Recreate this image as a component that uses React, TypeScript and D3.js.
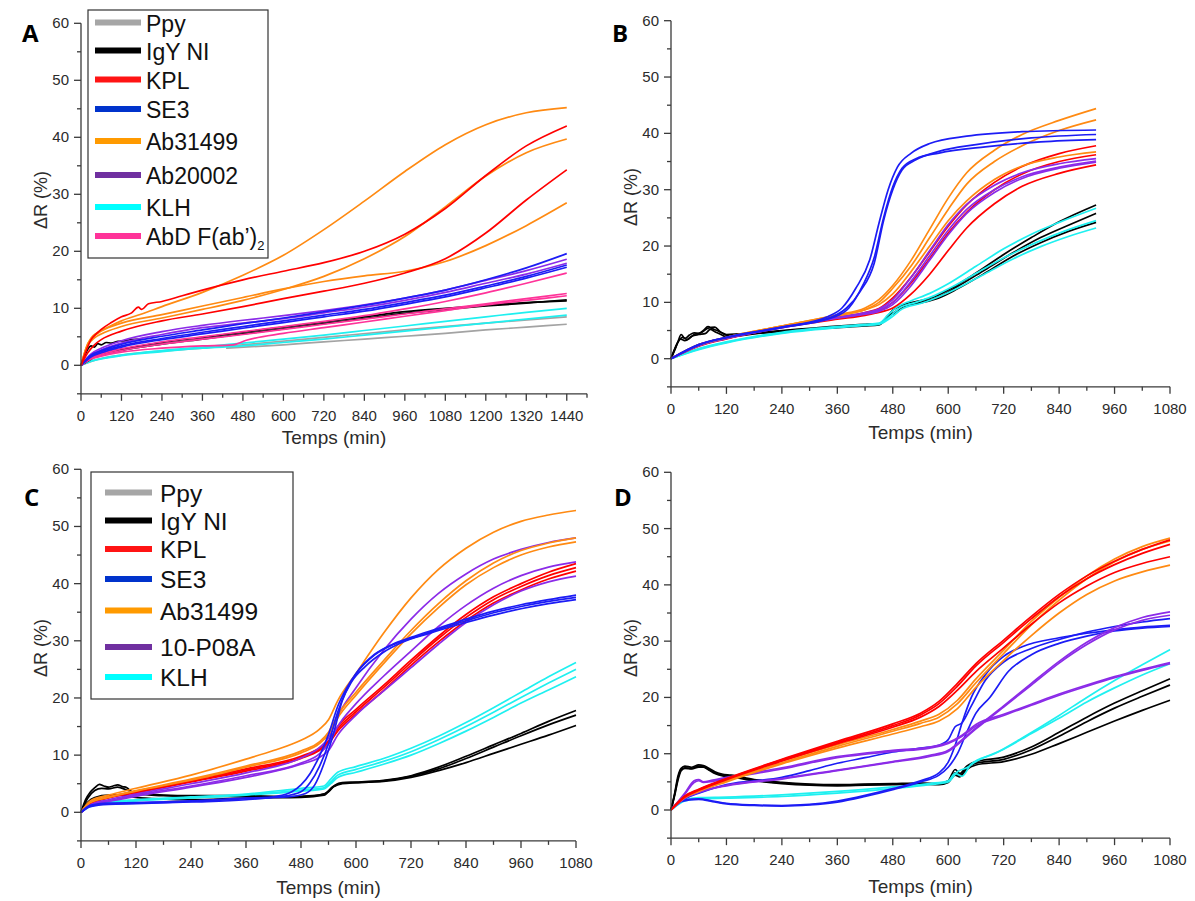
import React from 'react';
import * as d3 from 'd3';

type Pt = [number, number];
type Curve = Pt[];

// ---------------- Panel A (0..1440 min) ----------------
const A_PPY: Curve[] = [
  [[430,3.0],[600,3.6],[720,4.1],[840,4.6],[960,5.1],[1080,5.6],[1200,6.2],[1320,6.7],[1440,7.2]],
  [[0,0],[60,1.2],[120,1.8],[240,2.5],[360,3.0],[480,3.6],[720,4.9],[960,6.2],[1200,7.4],[1440,8.5]],
];
const A_IGY: Curve[] = [
  [[0,0],[30,1.2],[60,1.8],[120,2.6],[240,3.7],[360,4.6],[480,5.5],[600,6.4],[720,7.3],[840,8.2],[960,9.1],[1080,9.8],[1200,10.4],[1320,10.9],[1440,11.5]],
  [[0,0],[60,2],[120,2.8],[240,4],[360,4.9],[480,5.8],[600,6.7],[720,7.6],[840,8.5],[960,9.4],[1080,10],[1200,10.5],[1320,11],[1440,11.3]],
  [[0,0],[10,1.5],[20,2.8],[30,3.4],[40,3.2],[50,3.8],[60,3.6],[75,4.0],[90,3.9],[110,4.2],[130,4.3],[150,4.5],[180,4.6]],
];
const A_KPL: Curve[] = [
  [[0,0],[15,2.5],[30,4.5],[45,5.5],[60,6.3],[90,7.5],[120,8.5],[150,9.2],[170,10.2],[180,9.8],[200,10.8],[240,11.2],[300,12.2],[360,13.2],[480,15],[600,16.5],[720,18],[840,20],[960,23],[1080,27.5],[1200,33.3],[1320,38.5],[1440,42]],
  [[0,0],[20,2.2],[40,3.6],[60,4.5],[120,6],[240,7.8],[360,9],[480,10.3],[600,11.7],[720,13],[840,14.4],[960,16.2],[1080,18.7],[1200,23.2],[1320,29],[1440,34.3]],
];
const A_SE3: Curve[] = [
  [[0,0],[30,1.8],[60,2.6],[120,3.7],[240,5.1],[360,6.2],[480,7.3],[600,8.3],[720,9.4],[840,10.5],[960,11.8],[1080,13.2],[1200,15],[1320,17.1],[1440,19.6]],
  [[0,0],[30,1.6],[60,2.4],[120,3.4],[240,4.7],[360,5.8],[480,6.8],[600,7.8],[720,8.8],[840,9.8],[960,11],[1080,12.3],[1200,13.9],[1320,15.6],[1440,17.6]],
  [[0,0],[30,1.5],[60,2.2],[120,3.2],[240,4.5],[360,5.5],[480,6.5],[600,7.5],[720,8.5],[840,9.5],[960,10.7],[1080,12],[1200,13.6],[1320,15.3],[1440,17.2]],
];
const A_AB31499: Curve[] = [
  [[0,0],[15,3],[30,4.8],[45,5.6],[60,6.1],[90,7.0],[120,7.8],[180,9],[240,10.3],[360,12.8],[480,15.8],[600,19.3],[720,23.8],[840,28.8],[960,34],[1080,38.7],[1200,42.2],[1320,44.3],[1440,45.2]],
  [[0,0],[20,3.5],[40,4.8],[60,5.5],[120,6.8],[240,8.3],[360,9.8],[480,11.4],[600,13.3],[720,15.6],[840,18.7],[960,22.6],[1080,27.8],[1200,33.2],[1320,37.3],[1440,39.7]],
  [[0,0],[20,3.8],[40,5.2],[60,6.0],[120,7.4],[240,8.9],[360,10.4],[480,11.9],[600,13.4],[720,14.7],[840,15.7],[960,16.5],[1080,18.2],[1200,21],[1320,24.5],[1440,28.5]],
];
const A_AB20002: Curve[] = [
  [[0,0],[30,2],[60,3],[120,4.3],[240,5.9],[360,7],[480,7.9],[600,8.7],[720,9.6],[840,10.6],[960,11.8],[1080,13.2],[1200,14.9],[1320,16.6],[1440,18.6]],
  [[0,0],[30,1.8],[60,2.7],[120,3.9],[240,5.4],[360,6.6],[480,7.4],[600,8.2],[720,9.2],[840,10.2],[960,11.4],[1080,12.8],[1200,14.4],[1320,16],[1440,17.9]],
];
const A_KLH: Curve[] = [
  [[0,0],[30,0.8],[60,1.2],[120,1.8],[240,2.6],[360,3.2],[480,3.9],[600,4.6],[720,5.3],[840,6.1],[960,6.9],[1080,7.7],[1200,8.5],[1320,9.3],[1440,10]],
  [[0,0],[30,0.7],[60,1.1],[120,1.7],[240,2.4],[360,3.0],[480,3.4],[600,4.0],[720,4.6],[840,5.3],[960,6.0],[1080,6.7],[1200,7.4],[1320,8.1],[1440,8.8]],
];
const A_ABD: Curve[] = [
  [[0,0],[30,1.3],[60,2],[120,2.9],[240,4.1],[360,5],[480,5.9],[600,6.8],[720,7.7],[840,8.7],[960,9.9],[1080,11.2],[1200,12.7],[1320,14.4],[1440,16.2]],
  [[0,0],[30,1.2],[60,1.8],[120,2.6],[240,3.7],[360,4.6],[480,5.4],[600,6.3],[720,7.2],[840,8.1],[960,9],[1080,9.9],[1200,10.8],[1320,11.7],[1440,12.6]],
  [[0,0],[30,1.1],[60,1.6],[120,2.3],[240,3.0],[360,3.4],[450,3.6],[490,4.4],[600,5.6],[720,6.6],[840,7.6],[960,8.6],[1080,9.6],[1200,10.6],[1320,11.4],[1440,12.2]],
];

// ---------------- Panel B (0..920 min) ----------------
const B_IGY: Curve[] = [
  [[0,0],[8,1.5],[15,3],[22,4.3],[30,3.6],[40,4.2],[50,4.6],[60,4.5],[70,5.0],[80,5.7],[90,5.3],[100,5.0],[110,4.6],[120,4.3],[180,4.6],[240,5.0],[300,5.4],[360,5.8],[420,6.1],[450,6.2],[465,7.2],[480,8.6],[495,9.3],[510,9.8],[540,10.3],[570,11],[600,12.2],[660,15.2],[720,18.5],[780,21.5],[840,24.3],[920,27.3]],
  [[0,0],[10,2],[20,3.5],[30,3.2],[45,4],[60,4.3],[75,4.5],[85,5.2],[95,4.8],[110,4.2],[120,3.9],[180,4.4],[240,4.9],[300,5.3],[360,5.6],[420,6.0],[450,6.1],[470,7.5],[485,8.2],[500,9.2],[540,10],[580,11],[620,12.8],[680,15.8],[740,18.8],[800,21.5],[860,23.7],[920,25.8]],
  [[0,0],[12,2.5],[25,3.8],[35,3.4],[50,4.3],[65,4.6],[80,5.4],[95,5.6],[105,4.9],[120,4.2],[180,4.5],[240,4.8],[300,5.2],[360,5.5],[420,5.8],[450,6.0],[475,7.8],[490,8.6],[505,9.3],[540,9.9],[580,10.8],[620,12.4],[680,15.2],[740,18.2],[800,20.6],[860,22.6],[920,24.2]],
];
const B_KLH: Curve[] = [
  [[0,0],[60,1.8],[120,3.0],[240,4.7],[360,5.7],[420,6.1],[450,6.3],[470,7.8],[490,9.2],[520,10.3],[560,11.6],[600,13.3],[660,16.4],[720,19.5],[780,22.1],[840,24.2],[920,26.7]],
  [[0,0],[60,1.7],[120,2.9],[240,4.6],[360,5.6],[420,6.0],[450,6.2],[475,7.6],[495,9],[530,10],[570,11.2],[610,12.8],[670,15.6],[730,18.3],[790,20.6],[850,22.6],[920,24.5]],
  [[0,0],[60,1.6],[120,2.8],[240,4.5],[360,5.5],[420,5.9],[450,6.1],[478,7.4],[500,8.8],[540,9.8],[580,11],[620,12.5],[680,15.1],[740,17.7],[800,19.9],[860,21.7],[920,23.2]],
];
const B_KPL: Curve[] = [
  [[0,0],[60,2.3],[120,3.6],[240,5.6],[360,7.3],[420,8.2],[450,8.9],[480,10.8],[520,14.5],[560,19],[600,23.5],[640,27.3],[700,31.3],[760,34.1],[840,36.4],[920,37.8]],
  [[0,0],[60,2.3],[120,3.6],[240,5.6],[360,7.2],[420,8],[450,8.5],[480,10],[520,13.5],[560,17.8],[600,22.3],[640,26],[700,30],[760,32.8],[840,35],[920,36.2]],
  [[0,0],[60,2.2],[120,3.5],[240,5.5],[360,7.0],[420,7.7],[450,8.2],[480,9.0],[520,11.5],[560,15],[600,19.2],[640,23.2],[700,27.5],[760,30.6],[840,32.9],[920,34.4]],
];
const B_AB20002: Curve[] = [
  [[0,0],[60,2.4],[120,3.7],[240,5.7],[360,7.4],[420,8.2],[450,8.8],[480,10.5],[520,14.5],[560,19.2],[600,23.8],[640,27.4],[700,30.8],[760,33],[840,34.6],[920,35.5]],
  [[0,0],[60,2.3],[120,3.6],[240,5.6],[360,7.3],[420,8.0],[450,8.6],[480,10],[520,13.8],[560,18.3],[600,22.8],[640,26.5],[700,30],[760,32.3],[840,34],[920,35.1]],
  [[0,0],[60,2.3],[120,3.6],[240,5.5],[360,7.2],[420,7.9],[450,8.4],[480,9.6],[520,13],[560,17.5],[600,22],[640,25.8],[700,29.5],[760,32],[840,33.8],[920,34.9]],
];
const B_AB31499: Curve[] = [
  [[0,0],[60,2.5],[120,3.8],[240,5.8],[360,7.8],[420,9],[450,10.5],[480,13],[520,17.5],[560,23],[600,28.5],[640,33],[700,37],[760,39.8],[840,42.3],[920,44.4]],
  [[0,0],[60,2.5],[120,3.8],[240,5.8],[360,7.7],[420,8.7],[450,10],[480,12.5],[520,16.5],[560,21.5],[600,26.5],[640,31],[700,35],[760,37.8],[840,40.5],[920,42.4]],
  [[0,0],[60,2.4],[120,3.7],[240,5.8],[360,7.6],[420,8.7],[450,9.6],[480,11.5],[520,15.5],[560,20],[600,24.5],[640,28],[700,31.8],[760,34.2],[840,35.8],[920,36.7]],
];
const B_SE3: Curve[] = [
  [[0,0],[60,2.5],[120,3.8],[240,5.6],[340,7.5],[370,9],[400,12.5],[430,17.5],[450,24],[470,30],[490,34],[520,36.5],[560,38.2],[640,39.5],[760,40.3],[920,40.6]],
  [[0,0],[60,2.5],[120,3.8],[240,5.6],[350,7.5],[380,9],[410,12],[440,17],[460,24.5],[480,30],[500,33.5],[530,35.3],[580,36.8],[660,38],[780,39.2],[920,39.8]],
  [[0,0],[60,2.4],[120,3.7],[240,5.5],[350,7.3],[385,9],[415,13],[440,18],[460,25],[480,30.5],[500,33.8],[530,35.5],[580,36.5],[680,37.6],[800,38.5],[920,38.9]],
];

// ---------------- Panel C (0..1080 min) ----------------
const C_IGY: Curve[] = [
  [[0,0],[10,2.2],[20,3.5],[30,4.3],[40,4.9],[50,4.6],[60,4.4],[70,4.6],[80,4.8],[90,4.5],[100,4.3],[110,3.6],[120,3.2],[180,2.9],[240,2.8],[360,2.8],[420,2.7],[480,2.8],[520,3.0],[540,3.6],[555,4.8],[570,5.2],[600,5.3],[660,5.6],[720,6.4],[780,7.9],[840,9.8],[900,11.8],[960,13.8],[1020,15.9],[1080,17.8]],
  [[0,0],[15,2.5],[30,3.8],[45,4.2],[60,4.1],[80,4.4],[100,3.9],[120,3.4],[180,3.0],[240,2.9],[360,2.9],[480,2.7],[530,3.2],[550,4.5],[570,5.1],[600,5.2],[660,5.5],[720,6.3],[780,7.6],[840,9.4],[900,11.4],[960,13.4],[1020,15.3],[1080,17]],
  [[0,0],[15,1.8],[30,2.6],[60,3.0],[90,3.0],[120,2.6],[180,2.3],[240,2.2],[360,2.5],[480,2.6],[530,3.0],[550,4.4],[570,5.0],[600,5.2],[660,5.4],[720,6.1],[780,7.3],[840,8.7],[900,10.3],[960,11.9],[1020,13.5],[1080,15.2]],
];
const C_KLH: Curve[] = [
  [[0,0],[20,1.2],[60,1.8],[120,2.2],[240,2.7],[360,3.2],[480,4.2],[530,4.6],[545,5.8],[560,7],[600,8],[660,9.4],[720,11.2],[780,13.3],[840,15.7],[900,18.3],[960,21],[1020,23.7],[1080,26.2]],
  [[0,0],[20,1.1],[60,1.7],[120,2.1],[240,2.6],[360,3.1],[480,3.9],[530,4.3],[545,5.3],[560,6.5],[600,7.5],[660,8.9],[720,10.6],[780,12.7],[840,15],[900,17.5],[960,20.1],[1020,22.6],[1080,25]],
  [[0,0],[20,1.0],[60,1.6],[120,2.0],[240,2.5],[360,3.0],[480,3.7],[530,4.1],[545,5.0],[560,6.1],[600,7.0],[660,8.4],[720,10.0],[780,12.0],[840,14.2],[900,16.6],[960,19.1],[1020,21.4],[1080,23.7]],
];
const C_KPL: Curve[] = [
  [[0,0],[30,2],[60,2.7],[120,3.6],[240,5.6],[360,7.6],[480,9.8],[520,11.2],[540,12.5],[560,15],[600,18],[660,22.2],[720,26.6],[780,30.8],[840,34.6],[900,37.7],[960,40],[1020,42],[1080,43.5]],
  [[0,0],[30,1.9],[60,2.6],[120,3.5],[240,5.4],[360,7.4],[480,9.6],[520,11],[540,12.3],[560,14.6],[600,17.6],[660,21.8],[720,26.2],[780,30.4],[840,34.1],[900,37.2],[960,39.5],[1020,41.4],[1080,42.8]],
  [[0,0],[30,1.8],[60,2.5],[120,3.4],[240,5.3],[360,7.2],[480,9.4],[520,10.8],[540,12],[560,14.2],[600,17.2],[660,21.3],[720,25.7],[780,29.8],[840,33.5],[900,36.6],[960,38.9],[1020,40.8],[1080,42.2]],
];
const C_P08A: Curve[] = [
  [[0,0],[20,1.3],[60,2.2],[120,3.2],[240,5],[360,6.9],[480,9.5],[520,11.3],[540,13],[560,16.8],[600,21.8],[660,28.3],[720,33.8],[780,38.3],[840,41.7],[900,44.3],[960,46],[1020,47.2],[1080,48]],
  [[0,0],[20,1.2],[60,2],[120,3],[240,4.6],[360,6.4],[480,8.6],[520,10.2],[540,12],[560,15],[600,19],[660,23.8],[720,28.2],[780,32.5],[840,36.2],[900,39.2],[960,41.4],[1020,42.9],[1080,43.8]],
  [[0,0],[20,1.1],[60,1.9],[120,2.8],[240,4.4],[360,6.1],[480,8.4],[520,9.6],[540,10.8],[560,13.5],[600,17],[660,21.2],[720,25.3],[780,29.4],[840,33.2],[900,36.3],[960,38.7],[1020,40.3],[1080,41.3]],
];
const C_AB31499: Curve[] = [
  [[0,0],[20,2],[60,3],[120,4.2],[240,6.5],[360,9.3],[420,10.8],[480,12.6],[520,14.5],[540,16.2],[560,19.5],[600,24.3],[660,31.3],[720,37.5],[780,42.5],[840,46.2],[900,49],[960,50.9],[1020,52],[1080,52.8]],
  [[0,0],[20,1.8],[60,2.7],[120,3.8],[240,5.8],[360,8.1],[480,10.7],[520,12.3],[540,14],[560,17],[600,21],[660,26.5],[720,31.8],[780,36.5],[840,40.5],[900,43.6],[960,45.8],[1020,47.1],[1080,48]],
  [[0,0],[20,1.7],[60,2.6],[120,3.7],[240,5.6],[360,7.9],[480,10.4],[520,12],[540,13.6],[560,16.5],[600,20.5],[660,26],[720,31.2],[780,35.8],[840,39.8],[900,42.8],[960,45],[1020,46.4],[1080,47.3]],
];
const C_SE3: Curve[] = [
  [[0,0],[20,1],[60,1.4],[120,1.5],[240,1.8],[360,2.2],[420,2.7],[460,3.6],[480,4.8],[500,6.8],[520,9.8],[540,13.6],[560,18.5],[580,21.8],[600,24.3],[640,27.6],[680,29.4],[720,30.6],[780,32.2],[840,33.8],[900,35.2],[960,36.3],[1020,37.2],[1080,38]],
  [[0,0],[20,1.1],[60,1.5],[120,1.6],[240,1.9],[360,2.4],[440,2.8],[480,3.6],[500,5.2],[520,8],[540,12],[560,17.5],[580,21.5],[600,24.2],[640,27.5],[680,29.3],[720,30.4],[780,32],[840,33.5],[900,34.9],[960,36],[1020,36.9],[1080,37.6]],
  [[0,0],[20,1.2],[60,1.6],[120,1.7],[240,2.0],[360,2.5],[450,2.7],[490,3.3],[510,4.8],[530,8.5],[550,13.5],[570,19.5],[590,22.8],[620,25.5],[660,28],[700,29.7],[760,31.3],[840,33.2],[900,34.5],[960,35.6],[1020,36.5],[1080,37.2]],
];

// ---------------- Panel D (0..1080 min) ----------------
const D_IGY: Curve[] = [
  [[0,0],[8,3],[15,6],[22,7.4],[30,7.8],[45,7.6],[60,8.0],[70,7.9],[80,7.5],[95,6.8],[110,6.4],[130,6.2],[180,5.4],[240,4.9],[300,4.6],[360,4.5],[420,4.6],[480,4.7],[540,4.8],[580,4.7],[600,5.2],[615,7.2],[625,6.5],[640,7.8],[660,8.6],[720,9.4],[780,11.2],[840,13.8],[900,16.5],[960,19],[1020,21.2],[1080,23.3]],
  [[0,0],[8,2.8],[15,5.6],[22,7.2],[30,7.5],[45,7.4],[60,7.8],[70,7.7],[80,7.3],[95,6.6],[110,6.2],[130,6.0],[180,5.3],[240,4.8],[300,4.5],[360,4.4],[420,4.5],[480,4.6],[540,4.7],[580,4.6],[600,5.0],[615,6.6],[625,6.2],[640,7.5],[660,8.3],[720,9.0],[780,10.7],[840,13.1],[900,15.7],[960,18.1],[1020,20.2],[1080,22.2]],
  [[0,0],[8,2.6],[15,5.3],[22,7.0],[30,7.4],[45,7.3],[60,7.6],[70,7.6],[80,7.2],[95,6.5],[110,6.1],[130,5.9],[180,5.2],[240,4.7],[300,4.4],[360,4.3],[420,4.4],[480,4.5],[540,4.6],[580,4.5],[600,4.9],[615,6.2],[625,5.9],[640,7.2],[660,8.0],[720,8.6],[780,9.9],[840,11.8],[900,13.8],[960,15.8],[1020,17.7],[1080,19.5]],
];
const D_KLH: Curve[] = [
  [[0,0],[30,1.8],[60,2.2],[120,2.3],[240,2.7],[360,3.3],[480,4.1],[560,4.7],[600,5.2],[615,6.5],[630,6.0],[650,8.2],[700,10],[760,12.8],[840,16.8],[900,20],[960,23],[1020,25.8],[1080,28.5]],
  [[0,0],[30,1.6],[60,2],[120,2.1],[240,2.4],[360,3],[480,3.8],[560,4.5],[600,5],[620,6.8],[640,7.5],[660,8.6],[720,10.8],[780,13.6],[840,16.3],[900,19.2],[960,21.7],[1020,24],[1080,26]],
];
const D_SE3: Curve[] = [
  [[0,0],[30,2],[60,3],[120,4.5],[240,5.8],[300,7],[360,8.3],[420,9.3],[480,10.3],[540,11],[580,11.5],[600,12.5],[615,14.8],[630,15.5],[650,18.5],[680,23],[720,26.3],[780,28.7],[840,30.3],[900,31.6],[960,32.6],[1020,33.4],[1080,34]],
  [[0,0],[20,1.6],[60,2.0],[90,1.6],[120,1.2],[180,0.9],[240,0.8],[300,1.0],[360,1.6],[420,2.6],[480,3.8],[540,5.2],[580,6.6],[600,8.5],[615,11.5],[630,15.5],[650,20],[680,24],[720,27.3],[760,29],[840,30.6],[900,31.4],[960,32],[1020,32.5],[1080,32.8]],
  [[0,0],[20,1.5],[60,1.9],[90,1.5],[120,1.1],[180,0.8],[240,0.7],[300,0.9],[360,1.4],[420,2.4],[480,3.6],[540,5.0],[580,6.2],[600,7.6],[620,10],[640,13.8],[660,17.2],[690,20],[730,24.6],[780,27.6],[840,29.6],[900,30.9],[960,31.8],[1020,32.3],[1080,32.6]],
];
const D_P08A: Curve[] = [
  [[0,0],[30,3],[50,5.2],[60,5.4],[70,5.0],[90,5.3],[120,5.8],[240,7.5],[360,9.5],[480,10.6],[560,11.2],[600,12],[630,13.3],[660,15.2],[720,17],[780,18.8],[840,20.6],[900,22.2],[960,23.7],[1020,25],[1080,26.2]],
  [[0,0],[30,2.2],[60,3.2],[120,4.4],[240,5.6],[360,7.1],[480,8.6],[560,9.7],[600,10.6],[630,12.5],[660,14.6],[720,18.5],[780,22.5],[840,26.4],[900,29.8],[960,32.4],[1020,34.2],[1080,35.2]],
  [[0,0],[30,2.1],[60,3.1],[120,4.3],[240,5.5],[360,7.0],[480,8.5],[560,9.5],[600,10.4],[630,12.3],[660,14.4],[720,18.3],[780,22.2],[840,26.1],[900,29.4],[960,32],[1020,33.7],[1080,34.6]],
  [[0,0],[30,2.8],[50,4.9],[60,5.2],[70,4.9],[90,5.1],[120,5.6],[240,7.3],[360,9.3],[480,10.4],[560,11.0],[600,11.8],[630,13.1],[660,14.9],[720,16.8],[780,18.6],[840,20.4],[900,22],[960,23.5],[1020,24.8],[1080,26]],
];
const D_AB31499: Curve[] = [
  [[0,0],[30,2.4],[60,3.5],[120,5.4],[240,8.7],[360,11.6],[480,14.3],[540,15.8],[580,17],[620,19.5],[660,23.3],[720,28.4],[780,33.5],[840,37.8],[900,41.6],[960,44.6],[1020,46.8],[1080,48.3]],
  [[0,0],[30,2.3],[60,3.4],[120,5.2],[240,8.4],[360,11.3],[480,14.0],[540,15.4],[580,16.5],[620,18.9],[660,22.6],[720,27.8],[780,32.9],[840,37.3],[900,41.1],[960,44.1],[1020,46.3],[1080,47.8]],
  [[0,0],[30,2.2],[60,3.3],[120,5.0],[240,8.2],[360,11],[480,13.5],[540,14.8],[580,15.8],[620,18],[660,21.8],[720,26.6],[780,31],[840,35],[900,38.3],[960,40.7],[1020,42.3],[1080,43.5]],
];
const D_KPL: Curve[] = [
  [[0,0],[30,2.5],[60,3.7],[120,5.6],[240,9],[360,12.2],[480,15.3],[540,17.2],[580,19.3],[620,22.5],[660,26],[720,30.2],[780,34.4],[840,38.3],[900,41.6],[960,44.2],[1020,46.3],[1080,48]],
  [[0,0],[30,2.4],[60,3.6],[120,5.5],[240,8.9],[360,12.0],[480,15.0],[540,16.9],[580,18.9],[620,22],[660,25.6],[720,29.8],[780,34],[840,37.9],[900,41.1],[960,43.6],[1020,45.6],[1080,47.2]],
  [[0,0],[30,2.3],[60,3.5],[120,5.4],[240,8.7],[360,11.8],[480,14.7],[540,16.5],[580,18.4],[620,21.3],[660,24.6],[720,28.8],[780,33],[840,36.8],[900,39.8],[960,42.2],[1020,43.8],[1080,45]],
];

// ---------------- Axis ticks ----------------
const Y_TICKS = [0, 10, 20, 30, 40, 50, 60];
const Y_MINOR = [-5, 5, 15, 25, 35, 45, 55];
const X_TICKS_A = [0,120,240,360,480,600,720,840,960,1080,1200,1320,1440];
const X_MINOR_A = [60,180,300,420,540,660,780,900,1020,1140,1260,1380,1500];
const X_TICKS_B = [0,120,240,360,480,600,720,840,960,1080];
const X_MINOR_B = [60,180,300,420,540,660,780,900,1020];

// ---------------- Legends ----------------
const LEGEND_AB = ['Ppy', 'IgY NI', 'KPL', 'SE3', 'Ab31499', 'Ab20002', 'KLH', 'AbD F(ab’)'];
const LEGEND_CD = ['Ppy', 'IgY NI', 'KPL', 'SE3', 'Ab31499', '10-P08A', 'KLH'];

const COL = {
  ppy: '#a3a3a3', igy: '#000000', kpl: '#ff0000', se3: '#1c1cf5', ab31: '#ff8a12',
  purple: '#8b2be8', klh: '#1ff0f0', abd: '#ff3399',
};
const LEG_COL_AB = ['#a6a6a6', '#000000', '#ff1414', '#0033cc', '#ff9a00', '#7030a0', '#00ffff', '#ff3399'];
const LEG_COL_CD = ['#a6a6a6', '#000000', '#ff1414', '#0033cc', '#ff9a00', '#7030a0', '#00ffff'];

interface Series { color: string; curves: Curve[] }
interface PanelCfg {
  letter: string; lx: number; ly: number;
  xMax: number; left: number; right: number; y0: number; y60: number;
  ticks: number[]; minor: number[];
  titleY: number; yTitleY: number;
  series: Series[];
  legend?: { names: string[]; colors: string[]; x: number; y: number; w: number; h: number; rows: number[]; sx1: number; sx2: number; tx: number; fs: number; sub?: boolean };
}

const PANELS: PanelCfg[] = [
  {
    letter: 'A', lx: 22, ly: 42, xMax: 1500, left: 81, right: 587, y0: 365.3, y60: 23.3,
    ticks: X_TICKS_A, minor: X_MINOR_A, titleY: 444, yTitleY: 200,
    series: [
      { color: COL.ppy, curves: A_PPY }, { color: COL.klh, curves: A_KLH },
      { color: COL.igy, curves: A_IGY }, { color: COL.abd, curves: A_ABD },
      { color: COL.purple, curves: A_AB20002 }, { color: COL.se3, curves: A_SE3 },
      { color: COL.ab31, curves: A_AB31499 }, { color: COL.kpl, curves: A_KPL },
    ],
    legend: { names: LEGEND_AB, colors: LEG_COL_AB, x: 88, y: 10, w: 180, h: 248,
      rows: [22.5, 50.5, 79.5, 109, 141, 175, 207, 236], sx1: 95, sx2: 141, tx: 146, fs: 23, sub: true },
  },
  {
    letter: 'B', lx: 612, ly: 42, xMax: 1080, left: 671, right: 1170, y0: 358.7, y60: 20.7,
    ticks: X_TICKS_B, minor: X_MINOR_B, titleY: 439, yTitleY: 197,
    series: [
      { color: COL.igy, curves: B_IGY }, { color: COL.klh, curves: B_KLH },
      { color: COL.kpl, curves: B_KPL }, { color: COL.purple, curves: B_AB20002 },
      { color: COL.ab31, curves: B_AB31499 }, { color: COL.se3, curves: B_SE3 },
    ],
  },
  {
    letter: 'C', lx: 24, ly: 506, xMax: 1080, left: 81, right: 576, y0: 812.3, y60: 469.3,
    ticks: X_TICKS_B, minor: X_MINOR_B, titleY: 894, yTitleY: 648,
    series: [
      { color: COL.igy, curves: C_IGY }, { color: COL.klh, curves: C_KLH },
      { color: COL.kpl, curves: C_KPL }, { color: COL.purple, curves: C_P08A },
      { color: COL.ab31, curves: C_AB31499 }, { color: COL.se3, curves: C_SE3 },
    ],
    legend: { names: LEGEND_CD, colors: LEG_COL_CD, x: 91, y: 472, w: 202, h: 227,
      rows: [492.5, 520.5, 549, 579, 610.5, 647, 677], sx1: 105, sx2: 152, tx: 160, fs: 24.5 },
  },
  {
    letter: 'D', lx: 614, ly: 506, xMax: 1080, left: 671, right: 1170, y0: 810, y60: 472.3,
    ticks: X_TICKS_B, minor: X_MINOR_B, titleY: 893, yTitleY: 648,
    series: [
      { color: COL.igy, curves: D_IGY }, { color: COL.klh, curves: D_KLH },
      { color: COL.se3, curves: D_SE3 }, { color: COL.purple, curves: D_P08A },
      { color: COL.ab31, curves: D_AB31499 }, { color: COL.kpl, curves: D_KPL },
    ],
  },
];

const FONT = 'Liberation Sans, Arial, sans-serif';
const AXIS = '#3a3a3a';
const TXT = '#2b2b2b';

function Panel({ p }: { p: PanelCfg }) {
  const x = d3.scaleLinear().domain([0, p.xMax]).range([p.left, p.right]);
  const y = d3.scaleLinear().domain([0, 60]).range([p.y0, p.y60]);
  const yb = y(-5);
  const line = d3.line<Pt>().x(d => x(d[0])).y(d => y(d[1])).curve(d3.curveMonotoneX);
  const L = p.legend;
  return (
    <g>
      {p.series.map((s, i) => (
        <g key={i}>
          {s.curves.map((c, j) => (
            <path key={j} d={line(c) || ''} fill="none" stroke={s.color} strokeWidth={1.7} strokeLinejoin="round" />
          ))}
        </g>
      ))}
      {/* y axis */}
      <line x1={p.left} x2={p.left} y1={y(60)} y2={yb} stroke={AXIS} strokeWidth={1.3} />
      {Y_TICKS.map(t => (
        <g key={t}>
          <line x1={p.left - 7} x2={p.left} y1={y(t)} y2={y(t)} stroke={AXIS} strokeWidth={1.3} />
          <text x={p.left - 12} y={y(t) + 5} textAnchor="end" fontSize={15} fontFamily={FONT} fill={TXT}>{t}</text>
        </g>
      ))}
      {Y_MINOR.map(t => (
        <line key={t} x1={p.left - 4} x2={p.left} y1={y(t)} y2={y(t)} stroke={AXIS} strokeWidth={1.3} />
      ))}
      {/* x axis */}
      <line x1={p.left} x2={p.right} y1={yb} y2={yb} stroke={AXIS} strokeWidth={1.3} />
      {p.ticks.map(t => (
        <g key={t}>
          <line x1={x(t)} x2={x(t)} y1={yb} y2={yb + 7} stroke={AXIS} strokeWidth={1.3} />
          <text x={x(t)} y={yb + 27} textAnchor="middle" fontSize={15} fontFamily={FONT} fill={TXT}>{t}</text>
        </g>
      ))}
      {p.minor.map(t => (
        <line key={t} x1={x(t)} x2={x(t)} y1={yb} y2={yb + 4} stroke={AXIS} strokeWidth={1.3} />
      ))}
      <text x={(p.left + p.right) / 2} y={p.titleY} textAnchor="middle" fontSize={19} fontFamily={FONT} fill={TXT}>Temps (min)</text>
      <text transform={`translate(${p.left - 34},${p.yTitleY}) rotate(-90)`} textAnchor="middle" fontSize={18} fontFamily={FONT} fill={TXT}>ΔR (%)</text>
      <text x={p.lx} y={p.ly} fontSize={24} fontWeight="bold" fontFamily="Open Sans, Lato, sans-serif" fill="#000">{p.letter}</text>
      {L && (
        <g>
          <rect x={L.x} y={L.y} width={L.w} height={L.h} fill="#fff" stroke="#333" strokeWidth={1.2} />
          {L.names.map((n, i) => (
            <g key={n}>
              <line x1={L.sx1} x2={L.sx2} y1={L.rows[i]} y2={L.rows[i]} stroke={L.colors[i]} strokeWidth={6} />
              <text x={L.tx} y={L.rows[i] + 9} fontSize={L.fs} fontFamily={FONT} fill="#111">
                {n}
                {L.sub && i === L.names.length - 1 ? <tspan fontSize={13} dy={5}>2</tspan> : null}
              </text>
            </g>
          ))}
        </g>
      )}
    </g>
  );
}

export default function App() {
  return (
    <svg width={1195} height={901} style={{ position: 'absolute', left: 0, top: 0, background: '#fff' }}>
      <rect width={1195} height={901} fill="#fff" />
      {PANELS.map(p => <Panel key={p.letter} p={p} />)}
    </svg>
  );
}
